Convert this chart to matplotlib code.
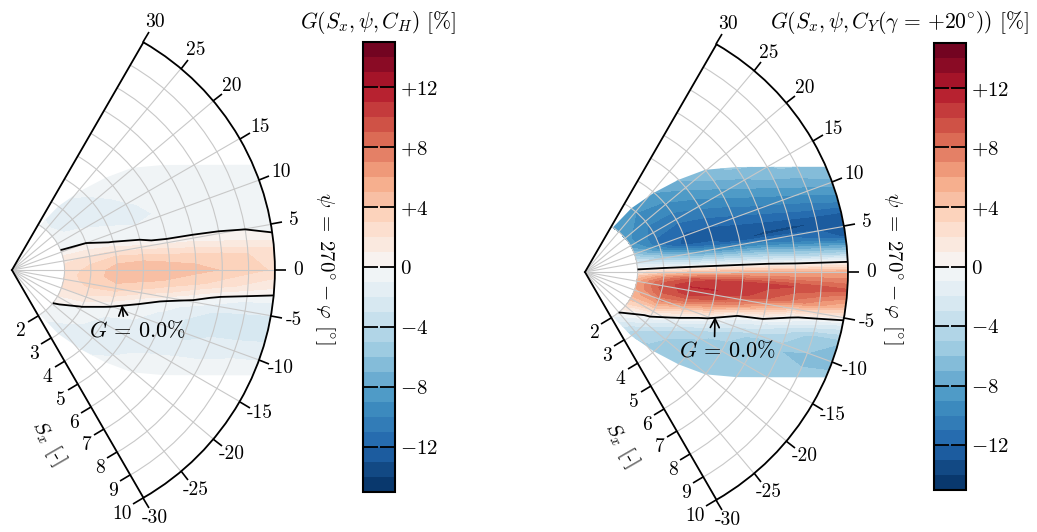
import numpy as np
import matplotlib
matplotlib.use('Agg')
import matplotlib.pyplot as plt
from matplotlib.patches import Polygon

plt.rcParams['font.family'] = 'cmr10'
plt.rcParams['mathtext.fontset'] = 'cm'
plt.rcParams['axes.unicode_minus'] = False
plt.rcParams['axes.formatter.use_mathtext'] = True
plt.rcParams['font.size'] = 14

# grid of the maps: downstream distance and angle
S_x = [2, 3, 4, 5, 6, 7, 8, 9, 10]
psi = [30, 24, 18, 14, 11, 8, 6, 4, 2, 0, -2, -4, -6, -8, -11, -14, -18, -24, -30]

# G [%], one row per S_x, values along psi (+30 ... -30)
G_H = [
    [-0.9, -0.9, -0.7, -0.4, 0.03, 0.95, 1.4, 1.85, 2.15, 2.35, 2.5, 2.5, 2.4, 2.25, 1.8, 1.2, 0.2, -0.6, -0.9],
    [-1.2, -1.5, -1.4, -0.7, -0.35, 0.7, 1.7, 2.45, 3.0, 3.35, 3.5, 3.4, 3.1, 2.55, 1.4, -0.05, -0.7, -1.2, -1.3],
    [-0.6, -0.8, -1.5, -1.4, -0.7, -0.15, 1.4, 2.9, 3.9, 4.45, 4.45, 3.9, 2.9, 1.4, -0.5, -1.2, -1.4, -1.2, -0.6],
    [-0.5, -0.5, -0.7, -1.2, -1.3, -0.5, 0.25, 2.5, 4.0, 4.6, 4.3, 3.15, 1.2, -0.4, -1.0, -1.4, -1.3, -0.6, -0.5],
    [-0.5, -0.5, -0.5, -0.6, -0.9, -0.7, -0.35, 1.9, 3.8, 4.5, 3.9, 2.1, -0.4, -1.2, -1.7, -1.4, -0.6, -0.5, -0.5],
    [-0.5, -0.5, -0.5, -0.5, -0.5, -0.6, -0.45, 1.45, 3.65, 4.3, 3.3, 0.75, -1.4, -2.2, -2.1, -1.0, -0.5, -0.5, -0.5],
    [-0.5, -0.5, -0.5, -0.5, -0.5, -0.6, -0.5, 0.95, 3.4, 3.95, 2.5, -0.5, -2.2, -2.4, -1.5, -0.6, -0.5, -0.5, -0.5],
    [-0.5, -0.5, -0.5, -0.5, -0.5, -0.5, -0.5, 0.45, 3.0, 3.4, 1.7, -1.2, -2.4, -2.3, -1.0, -0.5, -0.5, -0.5, -0.5],
    [-0.5, -0.5, -0.5, -0.5, -0.5, -0.5, -0.5, 0.03, 2.5, 2.85, 1.0, -1.6, -2.4, -2.0, -0.6, -0.5, -0.5, -0.5, -0.5],
]
G_Y = [
    [-8.15, -8.4, -8.8, -8.4, -6.55, -4.6, -3.3, -1.95, -0.6, 1.55, 3.7, 5.1, 5.9, 6.0, 5.65, 4.9, 3.3, 0.35, -1.45],
    [-8.35, -9.1, -10.05, -10.75, -11.35, -8.8, -6.2, -3.7, -1.1, 3.1, 7.05, 9.15, 9.45, 8.85, 6.75, 3.5, -0.9, -4.1, -5.5],
    [-6.9, -8.15, -9.75, -11.0, -12.0, -13.0, -9.3, -5.6, -1.8, 4.2, 9.35, 11.0, 10.3, 8.25, 2.8, -1.6, -4.8, -5.5, -5.5],
    [-5.5, -6.3, -8.55, -10.2, -11.55, -13.0, -11.4, -6.9, -2.25, 4.75, 10.25, 11.05, 9.1, 5.0, -1.5, -4.75, -5.5, -5.5, -5.5],
    [-5.5, -5.5, -6.9, -9.05, -10.7, -12.45, -12.9, -7.7, -2.6, 5.1, 10.6, 10.4, 6.8, 0.1, -4.0, -5.5, -5.5, -5.5, -5.5],
    [-5.5, -5.5, -5.5, -7.7, -9.7, -11.9, -13.3, -8.5, -2.9, 5.3, 10.4, 9.15, 3.75, -1.7, -5.8, -6.0, -5.5, -5.5, -5.5],
    [-5.5, -5.5, -5.5, -6.3, -8.7, -11.25, -13.3, -9.8, -3.8, 5.4, 10.0, 7.7, 0.5, -3.6, -6.0, -5.7, -5.5, -5.5, -5.5],
    [-5.5, -5.5, -5.5, -5.5, -7.55, -10.55, -13.0, -10.9, -4.2, 5.55, 9.65, 6.2, -1.2, -5.6, -6.2, -5.5, -5.5, -5.5, -5.5],
    [-5.5, -5.5, -5.5, -5.5, -6.35, -9.65, -12.9, -12.3, -4.5, 5.65, 9.2, 4.5, -2.5, -6.0, -6.0, -5.5, -5.5, -5.5, -5.5],
]

# edge of the measured region (psi limits for each S_x)
psi_top = [29, 27, 24.5, 22.3, 20.2, 17.4, 15.0, 13.2, 11.8]
psi_bot = [-29, -27, -24.5, -22.3, -20.2, -17.4, -15.0, -13.2, -11.8]

levels = np.arange(-15, 16, 1)
cbar_ticks = [-12, -8, -4, 0, 4, 8, 12]
cbar_labels = [r'$-12$', r'$-8$', r'$-4$', r'$0$', r'$+4$', r'$+8$', r'$+12$']
psi_ticks = list(range(-30, 31, 5))
titles = [r'$G(S_x,\psi,C_H)$ [%]', r'$G(S_x,\psi,C_Y(\gamma\,=\,{+}20^{\circ}))$ [%]']


def rad(p):
    # psi is drawn with a doubled opening angle
    return np.deg2rad(2 * np.asarray(p, dtype=float))


def draw(ax, cax, G, tip, txt):
    T, R = np.meshgrid(rad(psi), S_x)
    Z = np.array(G)
    cs = ax.contourf(T, R, Z, levels=levels, cmap='RdBu_r')
    cl = ax.contour(T, R, Z, levels=[0], colors='k', linewidths=1.3)

    arc = np.linspace(psi_bot[-1], psi_top[-1], 15)[1:-1]
    edge_psi = list(psi_bot) + list(arc) + psi_top[::-1]
    edge_r = list(S_x) + [S_x[-1]] * len(arc) + S_x[::-1]
    region = Polygon(np.column_stack([rad(edge_psi), edge_r]), closed=True,
                     transform=ax.transData)
    cs.set_clip_path(region)
    cl.set_clip_path(region)

    ax.set_thetamin(-60)
    ax.set_thetamax(60)
    ax.set_rlim(0, 10)
    ax.set_thetagrids([2 * v for v in psi_ticks], [str(v) for v in psi_ticks])
    ax.set_rgrids(S_x, [str(v) for v in S_x])
    ax.set_rlabel_position(-60)
    ax.grid(True, color='#c8c8c8', lw=0.8)
    ax.tick_params(axis='x', bottom=False, top=True, direction='out', length=8, width=1.2, pad=2)
    ax.tick_params(axis='y', left=True, direction='out', length=8, width=1.2, pad=2)
    for s in ax.spines.values():
        s.set_linewidth(1.3)

    ax.annotate(r'$G\,=\,0.0\%$', xy=(rad(tip[0]), tip[1]), xytext=(rad(txt[0]), txt[1]),
                ha='center', va='center', fontsize=16,
                arrowprops=dict(arrowstyle='->', color='k', lw=1.2, shrinkA=0, shrinkB=0,
                                relpos=(0.37, 0.7)))
    ax.text(rad(-39), 6.7, r'$S_x$ [-]', rotation=-60, rotation_mode='anchor',
            ha='center', va='center', fontsize=15)

    cb = fig.colorbar(cs, cax=cax, ticks=cbar_ticks)
    cb.set_ticklabels(cbar_labels)
    cb.outline.set_linewidth(1.5)
    cb.minorticks_off()
    cax.tick_params(direction='in', left=True, right=True, length=11, width=1.3,
                    labelleft=False, labelright=True, labelsize=15)


fig = plt.figure(figsize=(10.37, 5.32), dpi=100)
ax1 = fig.add_axes([-0.0813, 0.0643, 0.4392, 0.8562], projection='polar')
ax2 = fig.add_axes([0.4713, 0.0605, 0.4392, 0.8562], projection='polar')
cax1 = fig.add_axes([0.350, 0.0752, 0.0309, 0.846])
cax2 = fig.add_axes([0.9007, 0.0789, 0.0309, 0.840])

draw(ax1, cax1, G_H, (-8.8, 4.39), (-12.8, 5.27))
draw(ax2, cax2, G_Y, (-9.5, 5.23), (-14.4, 6.16))

fig.text(0.3645, 0.9586, titles[0], ha='center', va='center', fontsize=15.5)
fig.text(0.867, 0.9586, titles[1], ha='center', va='center', fontsize=15.5)
for x in (0.3134, 0.861):
    fig.text(x, 0.496, r'$\psi\;=\;270^{\circ} - \varphi$ [$^{\circ}$]', rotation=270,
             ha='center', va='center', fontsize=15)

fig.savefig('out.png', dpi=100)
